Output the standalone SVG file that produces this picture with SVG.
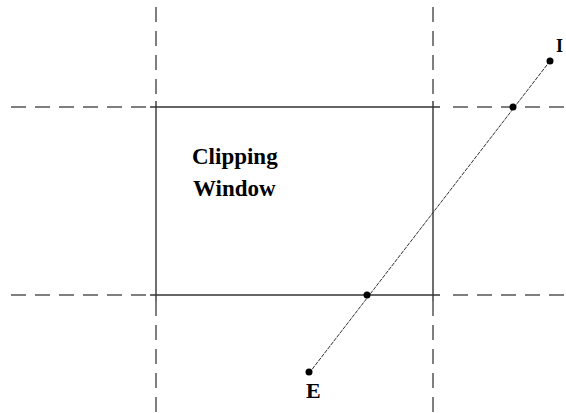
<svg xmlns="http://www.w3.org/2000/svg" width="566" height="413" viewBox="0 0 566 413">
<style>
.dash{stroke:#555;stroke-width:1.5;stroke-dasharray:15 9;fill:none}
.solid{stroke:#333;stroke-width:1.4;fill:none}
.seg{stroke:#333;stroke-width:1;stroke-dasharray:4 1;fill:none}
.lbl{font-family:"Liberation Serif",serif;font-weight:bold;fill:#000}
.pt{fill:#000}
</style>
<rect width="566" height="413" fill="#fff"/>
<g id="guides">
<line class="dash" x1="156" y1="7" x2="156" y2="101"/>
<line class="dash" x1="156" y1="301" x2="156" y2="413"/>
<line class="dash" x1="433" y1="7" x2="433" y2="101"/>
<line class="dash" x1="433" y1="301" x2="433" y2="413"/>
<line class="dash" x1="11" y1="107" x2="150" y2="107"/>
<line class="dash" x1="11" y1="295" x2="150" y2="295"/>
<line class="dash" x1="453" y1="107" x2="566" y2="107"/>
<line class="dash" x1="453" y1="295" x2="566" y2="295"/>
</g>
<g id="window">
<line class="solid" x1="150" y1="107" x2="440" y2="107"/>
<line class="solid" x1="150" y1="295" x2="440" y2="295"/>
<line class="solid" x1="156" y1="101" x2="156" y2="301"/>
<line class="solid" x1="433" y1="101" x2="433" y2="301"/>
<text class="lbl" x="192" y="164" font-size="23">Clipping</text>
<text class="lbl" x="193" y="196" font-size="23">Window</text>
</g>
<g id="connectors">
<line class="seg" x1="550" y1="61" x2="310" y2="372"/>
</g>
<g id="pointI">
<circle class="pt" cx="550" cy="61" r="3.5"/>
<text class="lbl" x="556" y="52" font-size="18">I</text>
</g>
<g id="pointTop">
<circle class="pt" cx="513" cy="107" r="3.5"/>
</g>
<g id="pointBottom">
<circle class="pt" cx="367" cy="295" r="3.5"/>
</g>
<g id="pointE">
<circle class="pt" cx="309" cy="372" r="3.5"/>
<text class="lbl" x="306" y="398" font-size="22">E</text>
</g>
</svg>
